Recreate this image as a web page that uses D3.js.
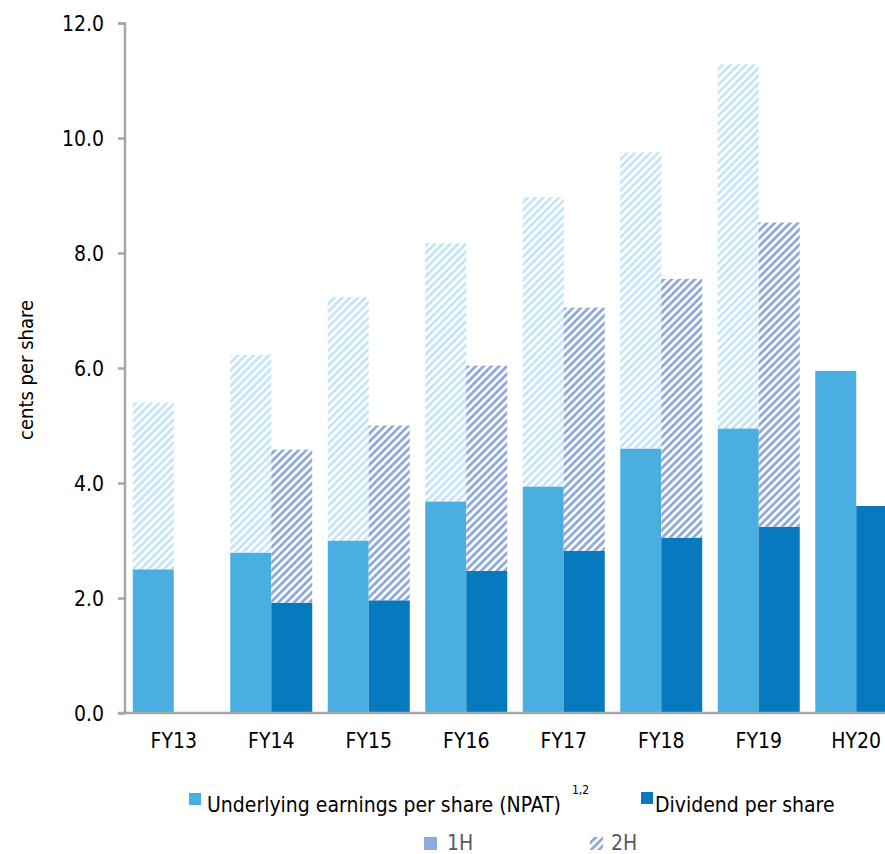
<!DOCTYPE html>
<html lang="en">
<head>
    <meta charset="UTF-8">
    <title>Earnings and dividend per share</title>
    <script src="https://cdn.jsdelivr.net/npm/d3@7"></script>
    <style>
        body { margin: 0; background: #fff; }
        text { font-family: "DejaVu Sans Condensed", "DejaVu Sans", sans-serif; font-stretch: condensed; }
    </style>
</head>
<body>
<div id="output"></div>

<script>

// values (cents per share)
var categories = ["FY13", "FY14", "FY15", "FY16", "FY17", "FY18", "FY19", "HY20"];
var earnings1H = [2.5, 2.79, 3.0, 3.68, 3.94, 4.6, 4.95, 5.95];
var earningsFY = [5.4, 6.23, 7.23, 8.17, 8.97, 9.75, 11.28, null];
var dividend1H = [null, 1.92, 1.96, 2.47, 2.82, 3.05, 3.24, 3.6];
var dividendFY = [null, 4.58, 5.0, 6.04, 7.05, 7.55, 8.53, null];
var yTicks = [0, 2, 4, 6, 8, 10, 12];

var w = 885;
var h = 854;
var svg = d3.select("#output")
    .append("svg")
    .attr("width", w)
    .attr("height", h);

var defs = svg.append("defs");
function hatch(id, color) {
    var p = defs.append("pattern")
        .attr("id", id)
        .attr("patternUnits", "userSpaceOnUse")
        .attr("width", 5.5)
        .attr("height", 5.5)
        .attr("patternTransform", "rotate(45)");
    p.append("rect").attr("width", 5.5).attr("height", 5.5).attr("fill", "#fff");
    p.append("rect").attr("width", 2.8).attr("height", 5.5).attr("fill", color);
}
hatch("hatchEarn", "#c3e5f9");
hatch("hatchDiv", "#8eaadb");

var x = d3.scaleBand()
    .domain(categories)
    .range([125, 905])
    .paddingInner(0.159)
    .paddingOuter(0.0795);

var x1 = d3.scaleBand()
    .domain(["earn", "div"])
    .range([0, x.bandwidth()]);

var y = d3.scaleLinear()
    .domain([0, 12])
    .range([713, 23]);

var rows = categories.map(function (c, i) {
    return { cat: c, e1: earnings1H[i], eFY: earningsFY[i], d1: dividend1H[i], dFY: dividendFY[i] };
});

// bars
function addBars(key, lo, hi, fill) {
    svg.append("g").selectAll("rect")
        .data(rows.filter(function (d) { return d[hi] != null && (lo == null || d[lo] != null); }))
        .enter().append("rect")
        .attr("x", function (d) { return x(d.cat) + x1(key); })
        .attr("width", x1.bandwidth())
        .attr("y", function (d) { return y(d[hi]); })
        .attr("height", function (d) { return y(lo == null ? 0 : d[lo]) - y(d[hi]); })
        .attr("fill", fill);
}
addBars("earn", null, "e1", "#4baee0");
addBars("earn", "e1", "eFY", "url(#hatchEarn)");
addBars("div", null, "d1", "#0779bf");
addBars("div", "d1", "dFY", "url(#hatchDiv)");

// y axis
var yAxis = svg.append("g")
    .attr("transform", "translate(125,0)")
    .call(d3.axisLeft(y).tickValues(yTicks).tickFormat(d3.format(".1f")).tickSize(7).tickPadding(14));
yAxis.selectAll("line, path").attr("stroke", "#a6a6a6").attr("stroke-width", 2.5);
yAxis.select(".domain").attr("d", "M-7,23.5H0V713.5");
yAxis.selectAll("text").attr("font-size", 21).attr("fill", "#000")
    .attr("font-family", null).attr("dy", "0.36em");

// x axis
var xAxis = svg.append("g")
    .attr("transform", "translate(0,713)")
    .call(d3.axisBottom(x).tickSize(0).tickPadding(20));
xAxis.select(".domain").attr("d", "M118,0H905").attr("stroke", "#a6a6a6").attr("stroke-width", 2.5);
xAxis.selectAll("text").attr("font-size", 21).attr("fill", "#000").attr("font-family", null);

// y title
svg.append("text")
    .attr("transform", "translate(33,370) rotate(-90)")
    .attr("text-anchor", "middle")
    .attr("font-size", 20)
    .text("cents per share");

// legend
var legend = svg.append("g");
legend.append("rect").attr("x", 189).attr("y", 793).attr("width", 12).attr("height", 12).attr("fill", "#4baee0");
legend.append("text").attr("x", 207).attr("y", 812).attr("font-size", 21).text("Underlying earnings per share (NPAT)");
legend.append("text").attr("x", 572).attr("y", 794).attr("font-size", 12).text("1,2");
legend.append("rect").attr("x", 641).attr("y", 792).attr("width", 12).attr("height", 12).attr("fill", "#0779bf");
legend.append("text").attr("x", 655).attr("y", 812).attr("font-size", 21).text("Dividend per share");

legend.append("rect").attr("x", 424).attr("y", 837).attr("width", 13).attr("height", 13).attr("fill", "#8eaadb");
legend.append("text").attr("x", 447).attr("y", 850).attr("font-size", 21).attr("fill", "#595959").text("1H");
legend.append("rect").attr("x", 590).attr("y", 837).attr("width", 13).attr("height", 13).attr("fill", "url(#hatchDiv)");
legend.append("text").attr("x", 611).attr("y", 850).attr("font-size", 21).attr("fill", "#595959").text("2H");

</script>

</body>
</html>
